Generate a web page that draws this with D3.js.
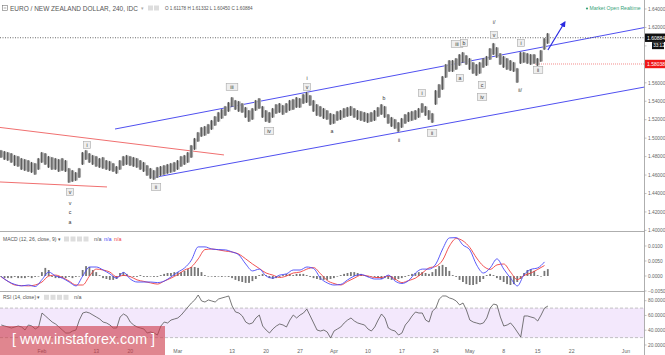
<!DOCTYPE html>
<html><head><meta charset="utf-8">
<script src="https://cdn.jsdelivr.net/npm/d3@7/dist/d3.min.js"></script>
<style>body{margin:0;background:#fff;}svg{display:block;font-family:"Liberation Sans",Arial,sans-serif;}</style>
</head><body><svg id="c" width="665" height="355"></svg>
<script>
// ---------- DATA ----------
// trading-day index (0 = 1 Feb 2017); price bars every half day
const barStartDay = -6, barStepDays = 0.5;
const highs = [1.4872,1.4861,1.4850,1.4839,1.4818,1.4807,1.4785,1.4774,1.4763,1.4742,
1.4731,1.4785,1.4850,1.4839,1.4807,1.4796,1.4785,1.4774,1.4785,1.4763,
1.4677,1.4655,1.4633,1.4677,1.4850,1.4872,1.4839,1.4818,1.4807,1.4785,
1.4796,1.4763,1.4753,1.4731,1.4698,1.4763,1.4807,1.4818,1.4807,1.4796,
1.4785,1.4763,1.4742,1.4709,1.4677,1.4655,1.4688,1.4698,1.4709,1.4720,
1.4731,1.4742,1.4763,1.4807,1.4818,1.4850,1.4926,1.5002,1.5067,1.5121,
1.5132,1.5154,1.5197,1.5240,1.5284,1.5316,1.5349,1.5392,1.5446,1.5414,
1.5403,1.5381,1.5338,1.5305,1.5327,1.5414,1.5435,1.5349,1.5305,1.5284,
1.5327,1.5370,1.5381,1.5360,1.5381,1.5414,1.5425,1.5446,1.5435,1.5479,
1.5500,1.5468,1.5414,1.5370,1.5349,1.5327,1.5305,1.5273,1.5262,1.5295,
1.5305,1.5327,1.5338,1.5349,1.5327,1.5305,1.5295,1.5284,1.5273,1.5284,
1.5305,1.5338,1.5370,1.5349,1.5262,1.5230,1.5208,1.5175,1.5219,1.5262,
1.5284,1.5295,1.5305,1.5327,1.5381,1.5349,1.5305,1.5273,1.5522,1.5587,
1.5674,1.5804,1.5847,1.5847,1.5869,1.5912,1.5934,1.5901,1.5869,1.5826,
1.5804,1.5826,1.5869,1.5891,1.5977,1.6032,1.5988,1.5923,1.5891,1.5869,
1.5847,1.5826,1.5761,1.5934,1.5934,1.5923,1.5912,1.5912,1.5869,1.5956,
1.6086,1.6140];
const lows = [1.4785,1.4763,1.4753,1.4731,1.4698,1.4688,1.4655,1.4644,1.4633,1.4623,
1.4601,1.4655,1.4731,1.4709,1.4677,1.4655,1.4655,1.4633,1.4644,1.4633,
1.4514,1.4525,1.4536,1.4568,1.4709,1.4763,1.4731,1.4709,1.4688,1.4677,
1.4666,1.4655,1.4644,1.4633,1.4612,1.4655,1.4698,1.4709,1.4698,1.4688,
1.4677,1.4655,1.4633,1.4590,1.4558,1.4547,1.4568,1.4590,1.4601,1.4612,
1.4623,1.4633,1.4655,1.4688,1.4709,1.4731,1.4785,1.4872,1.4959,1.5013,
1.5024,1.5045,1.5089,1.5132,1.5175,1.5208,1.5240,1.5284,1.5338,1.5305,
1.5284,1.5273,1.5219,1.5175,1.5197,1.5295,1.5316,1.5219,1.5175,1.5164,
1.5219,1.5262,1.5273,1.5251,1.5273,1.5295,1.5305,1.5327,1.5327,1.5370,
1.5381,1.5349,1.5284,1.5240,1.5230,1.5208,1.5197,1.5143,1.5154,1.5186,
1.5197,1.5219,1.5230,1.5240,1.5219,1.5197,1.5186,1.5175,1.5164,1.5175,
1.5186,1.5230,1.5251,1.5219,1.5154,1.5121,1.5099,1.5067,1.5110,1.5154,
1.5175,1.5186,1.5197,1.5219,1.5273,1.5240,1.5197,1.5164,1.5360,1.5435,
1.5522,1.5652,1.5717,1.5717,1.5739,1.5782,1.5815,1.5793,1.5739,1.5696,
1.5674,1.5696,1.5761,1.5782,1.5847,1.5901,1.5869,1.5793,1.5761,1.5739,
1.5728,1.5717,1.5598,1.5804,1.5815,1.5804,1.5793,1.5804,1.5782,1.5826,
1.5956,1.6021];
const rsi = [47.1,45.7,44.4,43.0,44.4,45.7,44.4,40.3,47.1,45.7,
41.7,44.4,63.3,59.3,55.2,51.1,48.4,44.4,40.3,36.2,
36.2,38.9,40.3,53.8,63.3,64.7,63.3,60.6,57.9,55.2,
51.1,49.8,47.1,43.0,43.0,57.9,62.0,59.3,51.1,47.1,
44.4,43.0,41.7,36.2,37.6,36.2,33.5,45.7,51.1,49.8,
53.8,55.2,56.6,60.6,66.0,71.5,76.9,81.0,87.7,79.6,
78.2,81.0,79.6,78.2,82.3,83.7,85.0,86.4,72.8,64.7,
63.3,59.3,51.1,48.4,49.8,56.6,60.6,45.7,40.3,36.2,
41.7,45.7,48.4,47.1,44.4,53.8,60.6,56.6,60.6,63.3,
68.7,59.3,49.8,40.3,38.9,40.3,37.6,29.4,38.9,41.7,
44.4,49.8,53.8,56.6,52.5,49.8,48.4,47.1,41.7,38.9,
44.4,53.8,62.0,56.6,43.0,40.3,38.9,33.5,36.2,47.1,
52.5,59.3,64.7,63.3,63.3,53.8,51.1,66.0,70.1,82.3,
86.4,86.4,83.7,82.3,79.6,74.2,76.9,67.4,53.8,51.1,
49.8,48.4,49.8,56.6,70.1,75.5,74.2,57.9,45.7,47.1,
49.8,44.4,37.6,30.8,59.3,59.3,57.9,56.6,52.5,60.6,
70.1,72.8];
const hist = [-0.0003,-0.0007,-0.0007,-0.0007,-0.0003,-0.0007,-0.0007,-0.0007,-0.0003,-0.0007,-0.0003,0,
0.0013,0.0027,0.0020,
-0.0003,-0.0007,-0.0007,-0.0007,-0.0007,-0.0003,-0.0007,-0.0003,0,
0.0020,0.0033,0.0030,0.0020,0.0013,0.0003,
-0.0007,-0.0010,-0.0013,-0.0013,-0.0010,
0.0010,0.0013,0.0007,
0,-0.0003,-0.0003,0.0003,-0.0003,-0.0003,0,-0.0003,-0.0003,
0.0003,0.0007,0.0010,0.0010,0.0013,0.0013,0.0013,
0.0017,0.0023,0.0030,0.0030,0.0027,0.0013,
0.0003,0,0,-0.0003,0,-0.0003,0,-0.0003,
-0.0007,-0.0013,-0.0017,-0.0020,-0.0023,-0.0023,-0.0017,-0.0010,
0.0003,0.0007,0.0003,
-0.0007,-0.0010,-0.0007,-0.0003,
0.0003,0.0007,0.0007,0.0003,0.0007,0.0007,0.0007,0.0003,
-0.0003,-0.0007,-0.0010,-0.0013,-0.0013,-0.0013,-0.0010,-0.0007,
0,0.0003,0.0007,0.0010,0.0013,0.0013,0.0010,0.0007,0.0003,
-0.0003,0,-0.0003,
-0.0007,-0.0010,-0.0007,-0.0010,-0.0013,-0.0013,-0.0010,-0.0007,-0.0003,
0.0003,0.0007,0.0010,0.0013,0.0013,0.0010,0.0007,
0.0013,0.0023,0.0033,0.0037,0.0030,0.0017,
0.0003,-0.0003,-0.0013,-0.0020,-0.0027,-0.0030,-0.0030,-0.0027,-0.0020,-0.0010,
0.0003,0.0007,0.0003,
-0.0007,-0.0013,-0.0020,-0.0027,-0.0030,-0.0027,-0.0020,-0.0010,
0.0010,0.0020,0.0023,0.0017,0.0003,
0,0.0017,0.0023];
// MACD lines, one value per trading day
const macdStartDay = -6, macdStepDays = 1;
const macdLine = [-0.0002,-0.0018,-0.0028,-0.0033,-0.0030,-0.0035,-0.0012,0.0013,0,-0.0007,
-0.0020,-0.0033,0,0.0030,0.0030,0.0020,0.0007,-0.0007,0.0012,-0.0010,
-0.0020,-0.0020,-0.0020,-0.0022,-0.0017,-0.0003,0.0013,0.0027,0.0053,0.0097,
0.0097,0.0090,0.0088,0.0087,0.0080,0.0070,0.0040,0.0017,0.0023,0,
-0.0007,0.0003,0.0007,0.0020,0.0020,0.0030,0.0025,-0.0007,-0.0023,-0.0030,
-0.0028,-0.0013,0,0.0005,-0.0003,-0.0010,-0.0010,0.0003,-0.0017,-0.0025,
-0.0015,0.0010,0.0023,0.0023,0.0040,0.0090,0.0127,0.0128,0.0103,0.0087,
0.0037,0.0010,0.0027,0.0057,0.0023,-0.0007,-0.0033,0.0005,0.0022,0.0027,
0.0047];
const signalLine = [-0.0003,-0.0018,-0.0030,-0.0032,-0.0033,-0.0030,-0.0020,0,0.0003,-0.0005,
-0.0017,-0.0030,-0.0030,0,0.0023,0.0020,0.0013,-0.0003,0.0002,-0.0002,
-0.0013,-0.0018,-0.0023,-0.0027,-0.0017,-0.0007,0.0005,0.0020,0.0030,0.0057,
0.0088,0.0090,0.0087,0.0083,0.0080,0.0073,0.0057,0.0040,0.0025,0.0010,
0.0003,-0.0005,0,0.0010,0.0013,0.0023,0.0028,0.0008,-0.0015,-0.0025,
-0.0030,-0.0018,-0.0007,0.0003,0,-0.0005,-0.0005,0,-0.0010,-0.0022,
-0.0015,-0.0007,0.0010,0.0027,0.0032,0.0053,0.0100,0.0125,0.0117,0.0095,
0.0060,0.0033,0.0022,0.0037,0.0040,0.0013,-0.0012,0.0002,0.0010,0.0022,
0.0035];
const priceTicks = [1.40,1.42,1.44,1.46,1.48,1.50,1.52,1.54,1.56,1.58,1.60,1.62,1.64];
const macdTicks = [-0.005,0,0.005,0.010];
const rsiTicks = [20,40,60,80];
const dateTickDays = [0,8,13,20,28,33,38,43,48,53,58,63,68,73,78,86];
const dateTickLabels = ["Feb","13","20","Mar","13","20","27","Apr","10","17","24","May","8","15","22","Jun"];
const lastPrice = 1.60884, levelPrice = 1.58038;
const titleText = "EURO / NEW ZEALAND DOLLAR, 240, IDC";
const ohlcText = "O 1.61178 H 1.61332 L 1.60450 C 1.60884";
const upperBlue = [[10.75,1.5099],[88.8,1.6200]];
const lowerBlue = [[16.64,1.4576],[88.8,1.5555]];
const upperRed = [[-6.19,1.5116],[26.8,1.4818]];
const lowerRed = [[-6.19,1.4525],[9.57,1.4471]];
const arrowPts = [[74.5,1.5956],[77.0,1.6259]];
const waveLabels = [
 ['v',4.12,1.4417,1],['v',4.12,1.4297,0],['c',4.12,1.4200,0],['a',4.12,1.4092,0],
 ['i',6.63,1.4926,1],['ii',16.79,1.4471,1],['iii',27.98,1.5555,1],['iv',33.43,1.5078,1],
 ['i',39.03,1.5652,0],['v',39.03,1.5555,1],['a',42.71,1.5078,0],['b',50.37,1.5435,0],
 ['ii',52.58,1.4980,0],['i',55.96,1.5490,1],['ii',57.44,1.5056,1],['iii',61.12,1.6021,1],
 ['b',62.15,1.6032,1],['a',61.56,1.5652,1],['c',64.80,1.5576,1],['iv',64.80,1.5446,1],
 ['i/',66.57,1.6259,0],['v',66.57,1.6118,1],['i',70.54,1.6032,1],['ii/',70.40,1.5522,0],
 ['ii',73.05,1.5739,1]];

// ---------- SCALES ----------
const svg = d3.select('#c');
const AX = 644.5;
const x = d3.scaleLinear().domain([0,86]).range([42,626]);
const yP = d3.scaleLinear().domain([1.40,1.64]).range([230.4,9]);
const yM = d3.scaleLinear().domain([-0.005,0.010]).range([291,246]);
const yR = d3.scaleLinear().domain([20,80]).range([345,300.7]);
const barDay = i => barStartDay + i*barStepDays;
const macdDay = i => macdStartDay + i*macdStepDays;
const binW = x(barStepDays) - x(0);

const defs = svg.append('defs');
defs.append('clipPath').attr('id','cm').append('rect').attr('x',0).attr('y',0).attr('width',AX).attr('height',231);
defs.append('clipPath').attr('id','cd').append('rect').attr('x',0).attr('y',232).attr('width',AX).attr('height',59);
defs.append('clipPath').attr('id','cr').append('rect').attr('x',0).attr('y',292).attr('width',AX).attr('height',52);
defs.append('marker').attr('id','ah').attr('viewBox','0 0 10 10').attr('refX',8).attr('refY',5)
  .attr('markerWidth',5).attr('markerHeight',5).attr('orient','auto')
  .append('path').attr('d','M0,0L10,5L0,10z').attr('fill','#2a2ae0');

// ---------- MAIN PANEL ----------
const gm = svg.append('g').attr('clip-path','url(#cm)');
const seg = (g, pts, col, w) => g.append('line')
  .attr('x1',x(pts[0][0])).attr('y1',yP(pts[0][1])).attr('x2',x(pts[1][0])).attr('y2',yP(pts[1][1]))
  .attr('stroke',col).attr('stroke-width',w||1);
seg(gm, upperRed, '#f07070');
seg(gm, lowerRed, '#f07070');
seg(gm, upperBlue, '#5050f0');
seg(gm, lowerBlue, '#5050f0');

gm.append('line').attr('x1',0).attr('x2',AX).attr('y1',yP(lastPrice)).attr('y2',yP(lastPrice))
  .attr('stroke','#444').attr('stroke-width',0.8).attr('stroke-dasharray','1,1.5');
gm.append('line').attr('x1',x(72.6)).attr('x2',AX).attr('y1',yP(levelPrice)).attr('y2',yP(levelPrice))
  .attr('stroke','#f07070').attr('stroke-width',0.8).attr('stroke-dasharray','1,1');

// bars
const bars = gm.append('g');
highs.forEach((h,i)=>{
  const cx = x(barDay(i)), y1 = yP(h), y2 = yP(lows[i]);
  bars.append('rect').attr('x',cx-binW/2).attr('y',y1+0.5).attr('width',binW).attr('height',Math.max(1,y2-y1-1)).attr('fill','#a6a6a6');
  bars.append('line').attr('x1',cx-0.3).attr('x2',cx-0.3).attr('y1',y1).attr('y2',y2).attr('stroke','#444').attr('stroke-width',0.9);
});

gm.append('line').attr('x1',x(arrowPts[0][0])).attr('y1',yP(arrowPts[0][1]))
  .attr('x2',x(arrowPts[1][0])).attr('y2',yP(arrowPts[1][1]))
  .attr('stroke','#2a2ae0').attr('stroke-width',1.2).attr('marker-end','url(#ah)');

// wave labels
const wl = svg.append('g').attr('font-size',5.2).attr('fill','#333');
waveLabels.forEach(([t,d,p,b])=>{
  const cx = x(d), cy = yP(p);
  if(b){
    const w = 3 + t.length*2.2 + 2;
    wl.append('rect').attr('x',cx-w/2).attr('y',cy-3.5).attr('width',w).attr('height',7)
      .attr('fill','#eeeeee').attr('stroke','#aaa').attr('stroke-width',0.6);
  }
  wl.append('text').attr('x',cx).attr('y',cy+1.8).attr('text-anchor','middle').text(t);
});

// ---------- MACD PANEL ----------
const gd = svg.append('g').attr('clip-path','url(#cd)');
hist.forEach((v,i)=>{
  const cx = x(barDay(i));
  const y0 = yM(0), y1 = yM(v);
  gd.append('rect').attr('x',cx-1).attr('width',1.8).attr('y',Math.min(y0,y1)).attr('height',Math.max(0.6,Math.abs(y1-y0))).attr('fill','#777');
});
const lineM = d3.line().x((v,i)=>x(macdDay(i))).y(v=>yM(v)).curve(d3.curveMonotoneX);
gd.append('path').attr('d',lineM(signalLine)).attr('fill','none').attr('stroke','#f04040').attr('stroke-width',0.9);
gd.append('path').attr('d',lineM(macdLine)).attr('fill','none').attr('stroke','#4848f8').attr('stroke-width',0.9);

// ---------- RSI PANEL ----------
const gr = svg.append('g').attr('clip-path','url(#cr)');
gr.append('rect').attr('x',0).attr('width',AX).attr('y',yR(70)).attr('height',yR(30)-yR(70)).attr('fill','#f3e8fc');
[70,30].forEach(v=>gr.append('line').attr('x1',0).attr('x2',AX).attr('y1',yR(v)).attr('y2',yR(v))
  .attr('stroke','#aaa').attr('stroke-width',0.7).attr('stroke-dasharray','3,2'));
gr.append('path').attr('d',d3.line().x((v,i)=>x(barDay(i))).y(v=>yR(v))(rsi))
  .attr('fill','none').attr('stroke','#555').attr('stroke-width',0.8);

// ---------- FRAME / AXES ----------
svg.append('line').attr('x1',0).attr('x2',AX).attr('y1',231.5).attr('y2',231.5).attr('stroke','#999').attr('stroke-width',0.8);
svg.append('line').attr('x1',0).attr('x2',AX).attr('y1',291.5).attr('y2',291.5).attr('stroke','#999').attr('stroke-width',0.8);
svg.append('line').attr('x1',AX).attr('x2',AX).attr('y1',0).attr('y2',355).attr('stroke','#999').attr('stroke-width',0.8);

const axG = svg.append('g').attr('font-size',4.8).attr('fill','#666');
const covered = [lastPrice, levelPrice];
const rTick = (yy, label, hide) => {
  axG.append('line').attr('x1',AX).attr('x2',AX+2).attr('y1',yy).attr('y2',yy).attr('stroke','#999').attr('stroke-width',0.6);
  if(!hide) axG.append('text').attr('x',AX+3.5).attr('y',yy+1.7).text(label);
};
priceTicks.forEach(v=>{
  const hide = covered.some(c=>Math.abs(yP(c)-yP(v))<10 && yP(v)>=yP(c)-2 && Math.abs(yP(c)-yP(v))<(c===lastPrice?10:5));
  rTick(yP(v), d3.format('.5f')(v), hide);
});
macdTicks.forEach(v=>rTick(yM(v), d3.format('.4f')(v)));
rsiTicks.forEach(v=>rTick(yR(v), d3.format('.4f')(v)));

const dx = svg.append('g').attr('font-size',5.2).attr('fill','#666').attr('text-anchor','middle');
dateTickDays.forEach((d,i)=>{
  dx.append('text').attr('x',x(d)).attr('y',353).text(dateTickLabels[i]);
});

// price labels on axis
const pl = svg.append('g');
pl.append('rect').attr('x',AX+0.5).attr('y',yP(lastPrice)-4.2).attr('width',20).attr('height',8.4).attr('fill','#111');
pl.append('text').attr('x',AX+2.5).attr('y',yP(lastPrice)+1.8).attr('font-size',5).attr('fill','#fff').text(d3.format('.5f')(lastPrice));
pl.append('rect').attr('x',652).attr('y',yP(lastPrice)+4.4).attr('width',12).attr('height',7).attr('fill','#111');
pl.append('text').attr('x',653.2).attr('y',yP(lastPrice)+9.5).attr('font-size',4.6).attr('fill','#fff').text('33:12');
pl.append('rect').attr('x',AX+0.5).attr('y',yP(levelPrice)-4.2).attr('width',20).attr('height',8.4).attr('fill','#f01818');
pl.append('text').attr('x',AX+2.5).attr('y',yP(levelPrice)+1.8).attr('font-size',5).attr('fill','#fff').text(d3.format('.5f')(levelPrice));

// ---------- TITLES ----------
const tg = svg.append('g').attr('fill','#555');
tg.append('rect').attr('x',2.5).attr('y',5.5).attr('width',5).attr('height',5).attr('fill','none').attr('stroke','#777').attr('stroke-width',0.6);
tg.append('line').attr('x1',3.7).attr('x2',6.3).attr('y1',8).attr('y2',8).attr('stroke','#777').attr('stroke-width',0.6);
tg.append('text').attr('x',10).attr('y',10.6).attr('font-size',6.4).attr('textLength',128).attr('lengthAdjust','spacingAndGlyphs').text(titleText);
tg.append('text').attr('x',141).attr('y',10).attr('font-size',4.5).attr('fill','#aaa').text('▾');
[148,154].forEach(xx=>tg.append('rect').attr('x',xx).attr('y',5.5).attr('width',5).attr('height',5).attr('fill','#ddd'));
tg.append('text').attr('x',165).attr('y',10.3).attr('font-size',4.6).attr('fill','#555').text(ohlcText);

svg.append('circle').attr('cx',587).attr('cy',8.5).attr('r',1.1).attr('fill','#3aa37a');
svg.append('text').attr('x',589.5).attr('y',10.4).attr('font-size',5.2).attr('fill','#3aa37a').attr('textLength',51).attr('lengthAdjust','spacingAndGlyphs').text('Market Open Realtime');

const mt = svg.append('g');
mt.append('text').attr('x',3).attr('y',240.8).attr('font-size',5).attr('fill','#555').text('MACD (12, 26, close, 9) ▾');
[64,70.5,77,83.5].forEach(xx=>mt.append('rect').attr('x',xx).attr('y',236.5).attr('width',5).attr('height',5).attr('fill','#ddd'));
mt.append('text').attr('x',94).attr('y',241).attr('font-size',5.4).attr('fill','#555').text('n/a');
mt.append('text').attr('x',104).attr('y',241).attr('font-size',5.4).attr('fill','#4848f8').text('n/a');
mt.append('text').attr('x',114).attr('y',241).attr('font-size',5.4).attr('fill','#f04040').text('n/a');

mt.append('text').attr('x',3).attr('y',299).attr('font-size',5).attr('fill','#555').text('RSI (14, close) ▾');
[44,50.5,57,63.5].forEach(xx=>mt.append('rect').attr('x',xx).attr('y',294.8).attr('width',5).attr('height',5).attr('fill','#ddd'));
mt.append('text').attr('x',74).attr('y',299.3).attr('font-size',5.4).attr('fill','#555').text('n/a');

// ---------- WATERMARK ----------
const wm = svg.append('g');
wm.append('rect').attr('x',0).attr('y',326).attr('width',165).attr('height',30).attr('fill','rgba(205,60,75,0.62)');
wm.append('text').attr('x',12).attr('y',344).attr('font-size',14).attr('fill','#fff')
  .attr('textLength',143).attr('lengthAdjust','spacingAndGlyphs').text('[ www.instaforex.com ]');
</script></body></html>
